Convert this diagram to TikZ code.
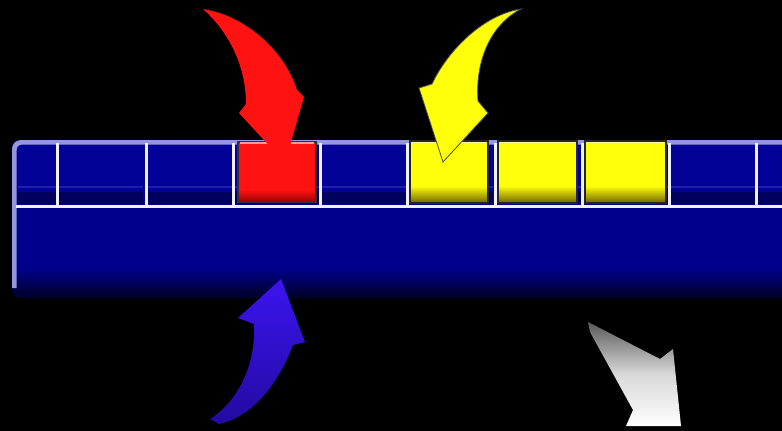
\documentclass[tikz,border=0pt]{standalone}
\usetikzlibrary{shadings}
\definecolor{barblue}{RGB}{0,0,140}
\definecolor{cellblue}{RGB}{2,2,150}
\definecolor{celldark}{RGB}{0,0,95}
\definecolor{cellstripe}{RGB}{30,30,170}
\definecolor{lav}{RGB}{150,150,225}
\definecolor{gridwhite}{RGB}{240,240,255}
\definecolor{redA}{RGB}{255,18,18}
\definecolor{redD}{RGB}{150,0,0}
\definecolor{yelA}{RGB}{255,255,10}
\definecolor{yelD}{RGB}{110,100,0}
\definecolor{arrblue}{RGB}{60,20,240}
\definecolor{arrblueD}{RGB}{35,10,160}
\tikzset{
  gridline/.style={gridwhite, line width=3pt},
}
\begin{document}
\begin{tikzpicture}[x=1pt,y=-1pt]
\useasboundingbox (0,0) rectangle (782,431);
\clip (0,0) rectangle (782,431);
\fill[black] (0,0) rectangle (782,431);

% bar body
\begin{scope}
  \clip[rounded corners=9pt] (12,140) rectangle (820,298);
  \fill[barblue] (0,130) rectangle (800,300);
  \shade[top color=barblue, bottom color={rgb,255:red,0;green,0;blue,35}] (0,268) rectangle (800,299);
  \fill[cellblue] (16,144) rectangle (800,204);
  \foreach \x in {16,57,146,233,320,407,495,582,669,756}{
    \fill[celldark] (\x+2,192) rectangle (\x+86,204);
    \draw[cellstripe, line width=1.2pt] (\x+2,187) -- (\x+86,187);
  }
  \draw[lav, line width=5pt, rounded corners=8pt] (14,288) -- (14,142) -- (810,142);
\end{scope}

% red cell
\fill[redA] (238,142) rectangle (316,201);
\shade[top color=redA, bottom color=redD] (238,190) rectangle (316,202);
\draw[black!80, line width=1.2pt] (238,142) rectangle (316,202);
\draw[red!40!white, line width=1.5pt] (240,143) -- (314,143);

% yellow cells
\foreach \a/\b in {410/488, 498/577, 585/666}{
  \fill[yelA] (\a,141) rectangle (\b,202);
  \shade[top color=yelA, bottom color=yelD] (\a,186) rectangle (\b,203);
  \draw[yellow!40!white, line width=1.5pt] (\a+2,142) -- (\b-2,142);
  \draw[black!85, line width=1.5pt] (\a,141) rectangle (\b,203);
}

% grid lines
\draw[gridline] (16,206) -- (782,206);
\foreach \x in {57,146,233,320,407,495,582,669,756}{
  \draw[gridline] (\x,143) -- (\x,206);
}

% red arrow
\fill[redA] (203,9) .. controls (247,16) and (285,52) .. (297,90)
  -- (304,97) -- (285,163) -- (239,113) -- (246,104)
  .. controls (246,70) and (232,35) .. (203,9) -- cycle;

% yellow arrow
\filldraw[fill=yelA, draw=black!70, line width=0.8pt]
  (521,9) .. controls (482,15) and (447,52) .. (432,84)
  -- (419,88) -- (443,162) -- (488,113) -- (478,101)
  .. controls (475,62) and (490,25) .. (521,9) -- cycle;

% blue arrow
\shade[top color=arrblue, bottom color=arrblueD]
  (210,419) .. controls (240,400) and (256,362) .. (254,324)
  -- (238,318) -- (281,279) -- (305,342) -- (293,345)
  .. controls (276,390) and (248,418) .. (219,424) -- cycle;

% white arrow
\shade[top color=black!65, bottom color=white, middle color=white!85!black]
  (588,322) -- (660,359) -- (673,349) -- (681,426) -- (626,426) -- (633,410) -- (590,332) -- cycle;
\end{tikzpicture}
\end{document}
